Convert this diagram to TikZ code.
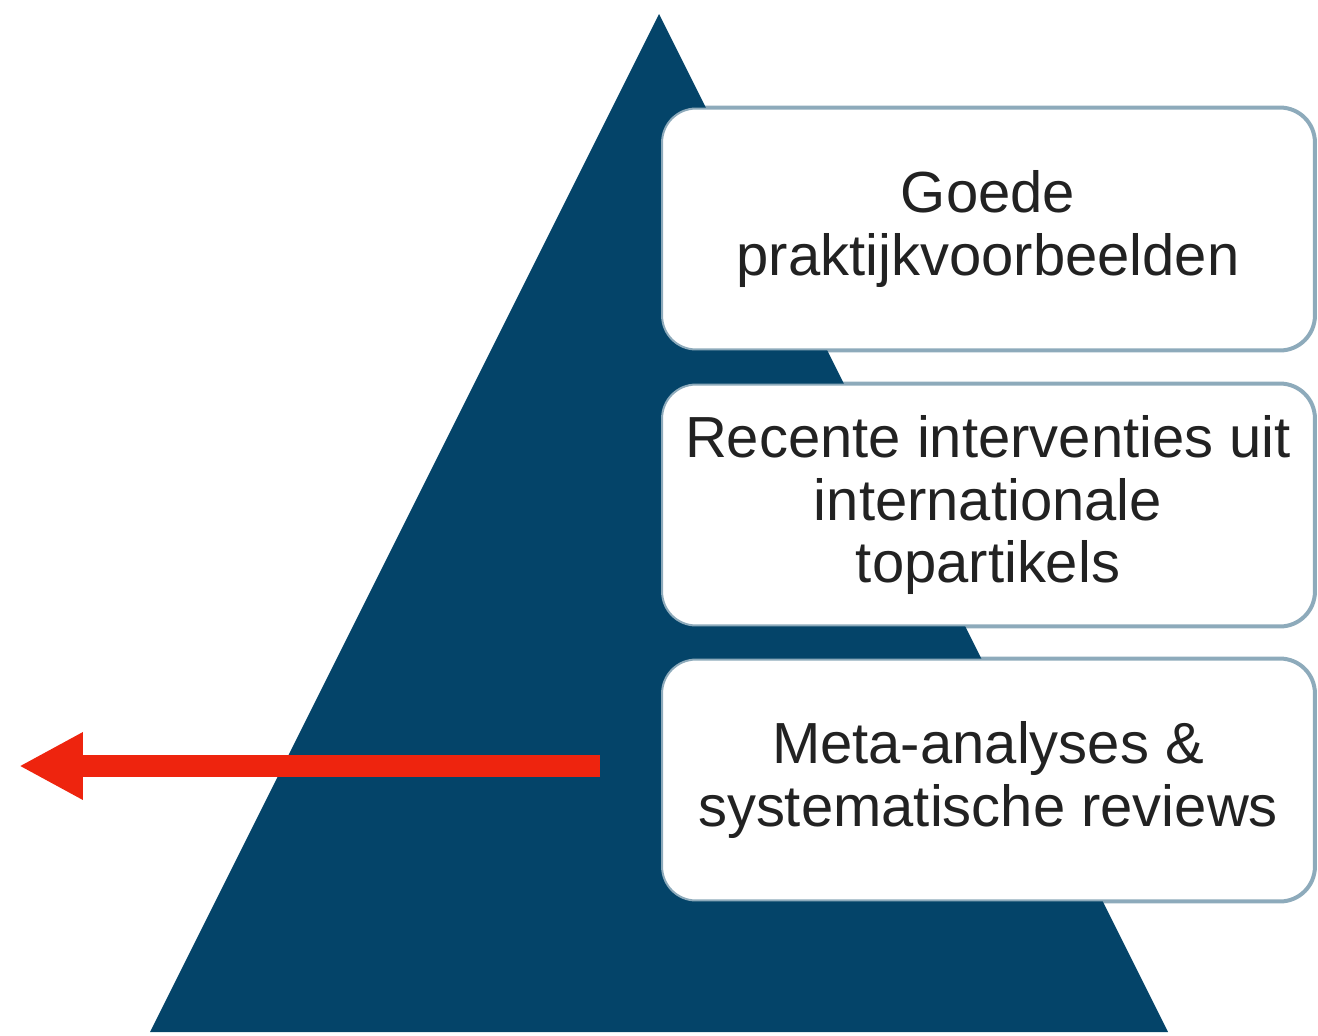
\documentclass[tikz,border=0pt]{standalone}
\usepackage{fontspec}
\setmainfont{Liberation Sans}
\usetikzlibrary{arrows.meta}
\definecolor{pyrblue}{RGB}{4,68,105}
\definecolor{arrred}{RGB}{238,36,14}
\definecolor{txtgray}{RGB}{34,34,34}
\begin{document}
\begin{tikzpicture}[x=0.02cm, y=-0.02cm,
    level/.style={draw=pyrblue, draw opacity=0.45, line width=0.08cm, fill=white,
      rounded corners=0.7cm, minimum width=13.08cm, minimum height=4.86cm,
      align=center, text=txtgray, font=\fontsize{33}{35.5}\selectfont},
    pyramid/.style={fill=pyrblue},
    redarrow/.style={draw=arrred, line width=0.44cm,
      -{Triangle[length=1.28cm, width=1.26cm]}}]
    \useasboundingbox (0,0) rectangle (1318,1035);

    \coordinate (top) at (659,14);
    \coordinate (bl) at (150,1032);
    \coordinate (br) at (1168,1032);
    \fill[pyramid] (top) -- (br) -- (bl) -- cycle;

    \node[level] (good) at (988,229) {Goede\\praktijkvoorbeelden};
    \node[level] (recent) at (988,505) {Recente interventies uit\\internationale\\topartikels};
    \node[level] (meta) at (988,780) {Meta-analyses \&\\systematische reviews};

    \coordinate (tail) at (600,766);
    \coordinate (tip) at (19,766);
    \draw[redarrow] (tail) -- (tip);
\end{tikzpicture}
\end{document}
